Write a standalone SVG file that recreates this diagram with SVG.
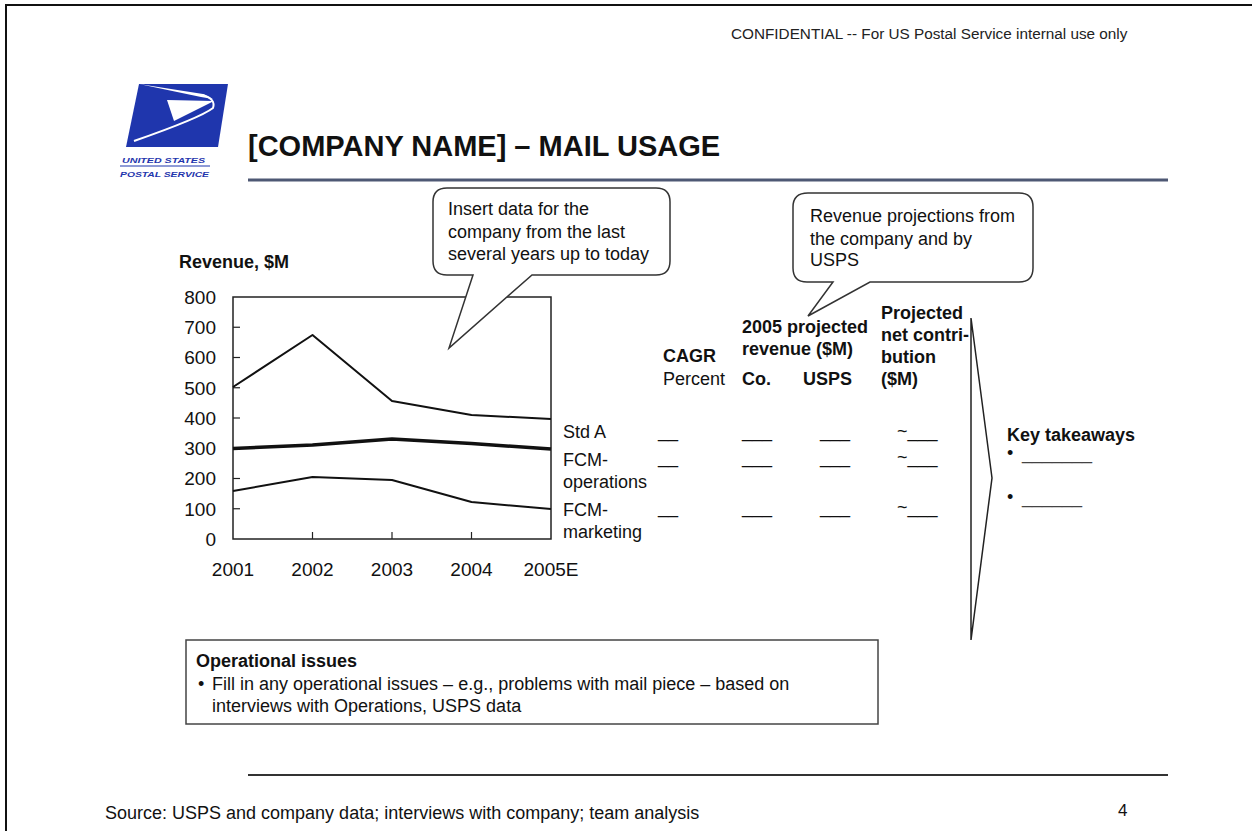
<svg xmlns="http://www.w3.org/2000/svg" width="1252" height="831" viewBox="0 0 1252 831">
<style>
text{font-family:"Liberation Sans",Arial,sans-serif;fill:#111}
.b{font-weight:bold}
.ax{font-size:19px}
.t18{font-size:18px}
.dash{font-size:18px;fill:#444}
.line{fill:none;stroke:#111;stroke-width:2;stroke-linejoin:round}
.callout{fill:#fff;stroke:#333;stroke-width:1.5}
</style>
<rect width="1252" height="831" fill="#fff"/>
<path d="M6 831V5H1252" fill="none" stroke="#111" stroke-width="2"/>
<text x="731" y="39" style="font-size:15.3px;fill:#222">CONFIDENTIAL -- For US Postal Service internal use only</text>

<g id="logo">
<polygon points="139,84 228,84 218,147 126,147" fill="#1f36ad"/>
<polygon points="139,84 203,94 213,99 201,97" fill="#fff"/>
<polygon points="167,100 214,101 174,121" fill="#fff"/>
<path d="M203 95 Q216 99 213 108 Q200 118 134 141" fill="none" stroke="#fff" stroke-width="2"/>
<text x="122" y="163" textLength="83" lengthAdjust="spacingAndGlyphs" style="font-size:8px;font-weight:bold;font-style:italic;fill:#1f36ad">UNITED STATES</text>
<line x1="120" y1="166" x2="210" y2="166" stroke="#1f36ad" stroke-width="1"/>
<text x="120" y="177" textLength="89" lengthAdjust="spacingAndGlyphs" style="font-size:8px;font-weight:bold;font-style:italic;fill:#1f36ad">POSTAL SERVICE</text>
</g>

<g id="title">
<text x="248" y="156" class="b" style="font-size:29px">[COMPANY NAME] – MAIL USAGE</text>
<line x1="248" y1="180" x2="1168" y2="180" stroke="#4e5874" stroke-width="3"/>
</g>

<g id="chart">
<text x="179" y="268" class="b t18">Revenue, $M</text>
<rect x="233" y="297" width="318" height="242" fill="none" stroke="#222" stroke-width="1.5"/>
<g stroke="#222" stroke-width="1.2">
<line x1="233" y1="327.25" x2="240" y2="327.25"/>
<line x1="233" y1="357.5" x2="240" y2="357.5"/>
<line x1="233" y1="387.75" x2="240" y2="387.75"/>
<line x1="233" y1="418" x2="240" y2="418"/>
<line x1="233" y1="448.25" x2="240" y2="448.25"/>
<line x1="233" y1="478.5" x2="240" y2="478.5"/>
<line x1="233" y1="508.75" x2="240" y2="508.75"/>
<line x1="312.5" y1="539" x2="312.5" y2="532"/>
<line x1="392" y1="539" x2="392" y2="532"/>
<line x1="471.5" y1="539" x2="471.5" y2="532"/>
</g>
<g class="ax" text-anchor="end">
<text x="216" y="304">800</text>
<text x="216" y="334">700</text>
<text x="216" y="364">600</text>
<text x="216" y="395">500</text>
<text x="216" y="425">400</text>
<text x="216" y="455">300</text>
<text x="216" y="485">200</text>
<text x="216" y="516">100</text>
<text x="216" y="546">0</text>
</g>
<g class="ax" text-anchor="middle">
<text x="233" y="576">2001</text>
<text x="312.5" y="576">2002</text>
<text x="392" y="576">2003</text>
<text x="471.5" y="576">2004</text>
<text x="551" y="576">2005E</text>
</g>
<polyline class="line" points="233,387 312.5,335 392,401 471.5,415 551,419"/>
<polyline class="line" style="stroke-width:3.5" points="233,448.5 312.5,445 392,439 471.5,443.5 551,449"/>
<polyline class="line" points="233,491 312.5,477 392,480 471.5,502 551,509"/>
<text x="563" y="438" class="t18">Std A</text>
<text x="563" y="466" class="t18">FCM-</text>
<text x="563" y="488" class="t18">operations</text>
<text x="563" y="516" class="t18">FCM-</text>
<text x="563" y="538" class="t18">marketing</text>
</g>

<g id="callout-data">
<path class="callout" d="M447 188H656Q670 188 670 202V261Q670 275 656 275H532L449 348L473 275H447Q433 275 433 261V202Q433 188 447 188Z"/>
<text x="448" y="215" class="t18">Insert data for the</text>
<text x="448" y="238" class="t18">company from the last</text>
<text x="448" y="260" class="t18">several years up to today</text>
</g>

<g id="callout-projections">
<path class="callout" d="M808 193H1019Q1033 193 1033 207V268Q1033 282 1019 282H870L808 316L833 282H807Q793 282 793 268V207Q793 193 808 193Z"/>
<text x="810" y="222" class="t18">Revenue projections from</text>
<text x="810" y="245" class="t18">the company and by</text>
<text x="810" y="266" class="t18">USPS</text>
</g>

<g id="table">
<text x="663" y="362" class="b t18">CAGR</text>
<text x="663" y="385" class="t18">Percent</text>
<text x="742" y="333" class="b t18">2005 projected</text>
<text x="742" y="355" class="b t18">revenue ($M)</text>
<text x="742" y="385" class="b t18">Co.</text>
<text x="803" y="385" class="b t18">USPS</text>
<text x="881" y="319" class="b t18">Projected</text>
<text x="881" y="341" class="b t18">net contri-</text>
<text x="881" y="363" class="b t18">bution</text>
<text x="881" y="385" class="b t18">($M)</text>
<g class="dash">
<text x="658" y="437">__</text><text x="742" y="437">___</text><text x="820" y="437">___</text><text x="897" y="437">~___</text>
<text x="658" y="463">__</text><text x="742" y="463">___</text><text x="820" y="463">___</text><text x="897" y="463">~___</text>
<text x="658" y="513">__</text><text x="742" y="513">___</text><text x="820" y="513">___</text><text x="897" y="513">~___</text>
</g>
</g>

<g id="connectors">
<path d="M971 318V640M971 318L992 478L971 640" fill="none" stroke="#222" stroke-width="1.5"/>
</g>

<g id="takeaways">
<text x="1007" y="441" class="b t18">Key takeaways</text>
<text x="1007" y="459" class="t18">•</text><text x="1022" y="459" class="dash">_______</text>
<text x="1007" y="503" class="t18">•</text><text x="1022" y="503" class="dash">______</text>
</g>

<g id="operational-issues">
<rect x="186" y="640" width="692" height="84" fill="#fff" stroke="#444" stroke-width="1.5"/>
<text x="196" y="667" class="b t18">Operational issues</text>
<text x="198" y="690" class="t18">•</text>
<text x="212" y="690" class="t18">Fill in any operational issues – e.g., problems with mail piece – based on</text>
<text x="212" y="712" class="t18">interviews with Operations, USPS data</text>
</g>

<g id="footer">
<line x1="248" y1="775" x2="1168" y2="775" stroke="#333" stroke-width="2"/>
<text x="105" y="819" class="t18">Source: USPS and company data; interviews with company; team analysis</text>
<text x="1118" y="816" style="font-size:17px">4</text>
</g>
</svg>
